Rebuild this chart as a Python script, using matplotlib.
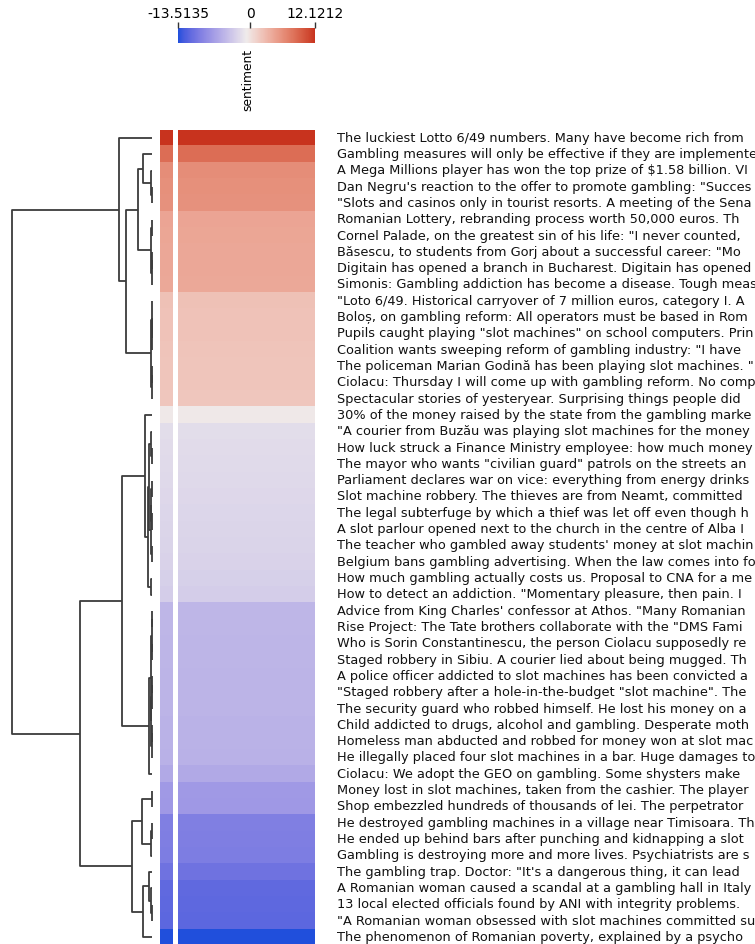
import numpy as np
import matplotlib
matplotlib.use("Agg")
import matplotlib.pyplot as plt
from matplotlib.colors import ListedColormap, Normalize, to_rgb
from matplotlib.cm import ScalarMappable

# headlines, already in clustered (descending sentiment) order
headlines = [
    "The luckiest Lotto 6/49 numbers. Many have become rich from",
    "Gambling measures will only be effective if they are implemente",
    "A Mega Millions player has won the top prize of $1.58 billion. VI",
    "Dan Negru's reaction to the offer to promote gambling: \"Succes",
    "\"Slots and casinos only in tourist resorts. A meeting of the Sena",
    "Romanian Lottery, rebranding process worth 50,000 euros. Th",
    "Cornel Palade, on the greatest sin of his life: \"I never counted,",
    "Băsescu, to students from Gorj about a successful career: \"Mo",
    "Digitain has opened a branch in Bucharest. Digitain has opened",
    "Simonis: Gambling addiction has become a disease. Tough meas",
    "\"Loto 6/49. Historical carryover of 7 million euros, category I. A",
    "Boloș, on gambling reform: All operators must be based in Rom",
    "Pupils caught playing \"slot machines\" on school computers. Prin",
    "Coalition wants sweeping reform of gambling industry: \"I have",
    "The policeman Marian Godină has been playing slot machines. \"",
    "Ciolacu: Thursday I will come up with gambling reform. No comp",
    "Spectacular stories of yesteryear. Surprising things people did",
    "30% of the money raised by the state from the gambling marke",
    "\"A courier from Buzău was playing slot machines for the money",
    "How luck struck a Finance Ministry employee: how much money",
    "The mayor who wants \"civilian guard\" patrols on the streets an",
    "Parliament declares war on vice: everything from energy drinks",
    "Slot machine robbery. The thieves are from Neamt, committed",
    "The legal subterfuge by which a thief was let off even though h",
    "A slot parlour opened next to the church in the centre of Alba I",
    "The teacher who gambled away students' money at slot machin",
    "Belgium bans gambling advertising. When the law comes into fo",
    "How much gambling actually costs us. Proposal to CNA for a me",
    "How to detect an addiction. \"Momentary pleasure, then pain. I",
    "Advice from King Charles' confessor at Athos. \"Many Romanian",
    "Rise Project: The Tate brothers collaborate with the \"DMS Fami",
    "Who is Sorin Constantinescu, the person Ciolacu supposedly re",
    "Staged robbery in Sibiu. A courier lied about being mugged. Th",
    "A police officer addicted to slot machines has been convicted a",
    "\"Staged robbery after a hole-in-the-budget \"slot machine\". The",
    "The security guard who robbed himself. He lost his money on a",
    "Child addicted to drugs, alcohol and gambling. Desperate moth",
    "Homeless man abducted and robbed for money won at slot mac",
    "He illegally placed four slot machines in a bar. Huge damages to",
    "Ciolacu: We adopt the GEO on gambling. Some shysters make",
    "Money lost in slot machines, taken from the cashier. The player",
    "Shop embezzled hundreds of thousands of lei. The perpetrator",
    "He destroyed gambling machines in a village near Timisoara. Th",
    "He ended up behind bars after punching and kidnapping a slot",
    "Gambling is destroying more and more lives. Psychiatrists are s",
    "The gambling trap. Doctor: \"It's a dangerous thing, it can lead",
    "A Romanian woman caused a scandal at a gambling hall in Italy",
    "13 local elected officials found by ANI with integrity problems.",
    "\"A Romanian woman obsessed with slot machines committed su",
    "The phenomenon of Romanian poverty, explained by a psycho",
]

sentiment = [
    12.1212, 8.5, 6.2, 6.0, 5.9, 4.5, 4.4, 4.3, 4.3, 4.2,
    2.4, 2.3, 2.3, 2.2, 2.1, 2.1, 2.0, -0.5, -1.7, -1.8,
    -1.9, -2.0, -2.1, -2.2, -2.3, -2.4, -2.5, -2.7, -2.9, -4.8,
    -4.8, -4.9, -4.9, -5.0, -5.0, -5.0, -5.1, -5.1, -5.2, -5.8,
    -7.1, -7.2, -9.3, -9.4, -9.5, -10.4, -11.2, -11.3, -11.4, -13.5135,
]

cbar_ticks = [-13.5135, 0, 12.1212]
cbar_ticklabels = ["-13.5135", "0", "12.1212"]

# ---- CIE Lab helpers so the colour ramp goes blue -> lavender -> white -> salmon -> red
M_RGB2XYZ = np.array([[0.4124, 0.3576, 0.1805],
                      [0.2126, 0.7152, 0.0722],
                      [0.0193, 0.1192, 0.9505]])
WHITE = M_RGB2XYZ @ np.ones(3)


def to_lab(hexcol):
    c = np.array(to_rgb(hexcol))
    lin = np.where(c <= 0.04045, c / 12.92, ((c + 0.055) / 1.055) ** 2.4)
    xyz = M_RGB2XYZ @ lin / WHITE
    f = np.where(xyz > (6 / 29) ** 3, np.cbrt(xyz), xyz / (3 * (6 / 29) ** 2) + 4 / 29)
    return np.array([116 * f[1] - 16, 500 * (f[0] - f[1]), 200 * (f[1] - f[2])])


def from_lab(lab):
    fy = (lab[0] + 16) / 116
    f = np.array([fy + lab[1] / 500, fy, fy - lab[2] / 200])
    xyz = np.where(f > 6 / 29, f ** 3, 3 * (6 / 29) ** 2 * (f - 4 / 29)) * WHITE
    lin = np.linalg.solve(M_RGB2XYZ, xyz)
    lin = np.clip(lin, 0, 1)
    c = np.where(lin <= 0.0031308, 12.92 * lin, 1.055 * lin ** (1 / 2.4) - 0.055)
    return np.clip(c, 0, 1)


def lab_cmap(low, mid, high, n=256):
    lo, mi, hi = to_lab(low), to_lab(mid), to_lab(high)
    cols = []
    for t in np.linspace(0, 1, n):
        if t < 0.5:
            lab = lo + (mi - lo) * (t / 0.5)
        else:
            lab = mi + (hi - mi) * ((t - 0.5) / 0.5)
        cols.append(from_lab(lab))
    return ListedColormap(cols)


def ward_merges(vals):
    # plain agglomerative clustering (ward) on a single column
    clusters = [dict(n=1, mean=v, pos=i + 0.5, h=0.0) for i, v in enumerate(vals)]
    merges = []
    while len(clusters) > 1:
        best = None
        for a in range(len(clusters)):
            for b in range(a + 1, len(clusters)):
                ca, cb = clusters[a], clusters[b]
                d = np.sqrt(2 * ca["n"] * cb["n"] / (ca["n"] + cb["n"])) * abs(ca["mean"] - cb["mean"])
                if best is None or d < best[0]:
                    best = (d, a, b)
        d, a, b = best
        ca, cb = clusters[a], clusters[b]
        merges.append((ca["pos"], ca["h"], cb["pos"], cb["h"], d))
        n = ca["n"] + cb["n"]
        new = dict(n=n, mean=(ca["mean"] * ca["n"] + cb["mean"] * cb["n"]) / n,
                   pos=(ca["pos"] + cb["pos"]) / 2, h=d)
        clusters = [c for k, c in enumerate(clusters) if k not in (a, b)] + [new]
    return merges


W, H = 755, 944
fig = plt.figure(figsize=(W / 100, H / 100), dpi=100)
plt.rcParams["font.family"] = "DejaVu Sans"


def px_axes(x0, y0, x1, y1):
    return fig.add_axes([x0 / W, 1 - y1 / H, (x1 - x0) / W, (y1 - y0) / H])


vals = np.array(sentiment)
nrows = len(vals)
cmap = lab_cmap("#2050dc", "#efebeb", "#c8331f")
norm = Normalize(vmin=min(cbar_ticks), vmax=max(cbar_ticks))

top, bottom = 130, 130 + nrows * 16.31

# dendrogram
ax_d = px_axes(12, top, 152, bottom)
merges = ward_merges(vals)
root = merges[-1][4]
for pa, ha, pb, hb, d in merges:
    ax_d.plot([ha, d, d, hb], [pa, pa, pb, pb], color="#3c3c3c", lw=1.3,
              solid_capstyle="butt", clip_on=False)
ax_d.set_xlim(root, 0)
ax_d.set_ylim(nrows, 0)
ax_d.axis("off")

# narrow side strip and the main sentiment column
for x0, x1 in [(160, 173), (178, 315)]:
    ax = px_axes(x0, top, x1, bottom)
    ax.imshow(vals.reshape(-1, 1), aspect="auto", cmap=cmap, norm=norm,
              interpolation="nearest", extent=(0, 1, nrows, 0))
    ax.axis("off")
ax_hm = ax

# row labels
for i, lbl in enumerate(headlines):
    ax_hm.text(1.16, i + 0.5, lbl, transform=ax_hm.get_yaxis_transform(),
               va="center", ha="left", fontsize=9.3, color="#111111")

# colour legend on top
cax = px_axes(178, 28, 315, 43)
cb = fig.colorbar(ScalarMappable(norm=norm, cmap=cmap), cax=cax, orientation="horizontal",
                  ticks=cbar_ticks)
cb.outline.set_visible(False)
cax.xaxis.set_ticks_position("top")
cax.set_xticklabels(cbar_ticklabels)
cax.tick_params(axis="x", length=4, width=1, color="#333333", labelsize=10, pad=1)
fig.text(248 / W, 1 - 80 / H, "sentiment", rotation=90, ha="center", va="center", fontsize=8.8)

fig.savefig("out.png", dpi=100)
